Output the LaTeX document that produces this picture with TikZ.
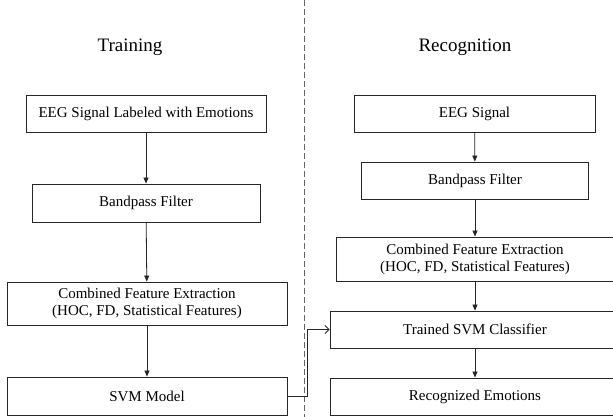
\documentclass[tikz,border=0pt]{standalone}
\usepackage{fontspec}
\setmainfont{Liberation Serif}
\usetikzlibrary{arrows.meta}
\tikzset{
  stagebox/.style={draw=black!85, line width=0.9pt, inner sep=0pt, align=center,
    font=\fontsize{15}{17}\selectfont},
  flowarrow/.style={draw=black!85, line width=0.8pt, -{Triangle[length=6pt,width=5pt]}},
  feedarrow/.style={draw=black!85, line width=0.8pt, -{Straight Barb[length=4pt,width=8pt]}},
  headtext/.style={font=\fontsize{19}{22}\selectfont, inner sep=0pt},
  divider/.style={draw=black!60, line width=0.8pt, dash pattern=on 6pt off 3pt}
}
\begin{document}
\begin{tikzpicture}[x=1pt,y=-1pt]
\useasboundingbox (0,0) rectangle (613,417);
\clip (0,0) rectangle (613,417);
\fill[white] (0,0) rectangle (613,417);
\coordinate (dtop) at (304,0);
\coordinate (dbot) at (304,417);
\draw[divider] (dtop) -- (dbot);
\node[headtext] (htrain) at (130,47) {Training};
\node[headtext] (hrec) at (465,47) {Recognition};
% training column
\node[stagebox, minimum width=240pt, minimum height=37pt] (t1) at (146,113.5) {EEG Signal Labeled with Emotions};
\node[stagebox, minimum width=228pt, minimum height=38pt] (t2) at (146,203) {Bandpass Filter};
\node[stagebox, minimum width=280pt, minimum height=43pt] (t3) at (147,303.5) {Combined Feature Extraction\\(HOC, FD, Statistical Features)};
\node[stagebox, minimum width=280pt, minimum height=38pt] (t4) at (147,396) {SVM Model};
% recognition column
\node[stagebox, minimum width=241pt, minimum height=37pt] (r1) at (474.5,113.5) {EEG Signal};
\node[stagebox, minimum width=227pt, minimum height=37pt] (r2) at (475,180.5) {Bandpass Filter};
\node[stagebox, minimum width=278pt, minimum height=44pt] (r3) at (475,259) {Combined Feature Extraction\\(HOC, FD, Statistical Features)};
\node[stagebox, minimum width=290pt, minimum height=37pt] (r4) at (475,329.5) {Trained SVM Classifier};
\node[stagebox, minimum width=290pt, minimum height=37pt] (r5) at (475,396.5) {Recognized Emotions};
% arrows
\draw[flowarrow] (t1) -- (t2);
\draw[flowarrow] (t2) -- (t3);
\draw[flowarrow] (t3) -- (t4);
\draw[flowarrow] (r1) -- (r2);
\draw[flowarrow] (r2) -- (r3);
\draw[flowarrow] (r3) -- (r4);
\draw[flowarrow] (r4) -- (r5);
\coordinate (bend) at (307,396);
\draw[feedarrow] (t4.east) -- (bend) |- (r4.west);
\end{tikzpicture}
\end{document}
